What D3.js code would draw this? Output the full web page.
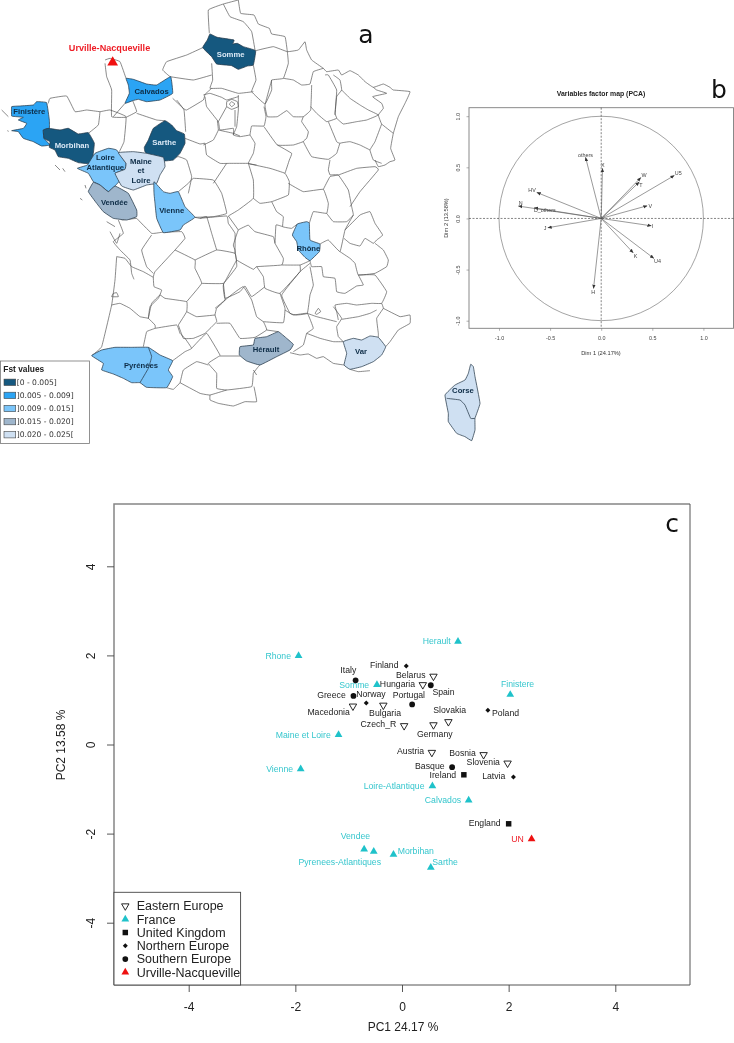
<!DOCTYPE html>
<html><head><meta charset="utf-8"><title>Fst map and PCA</title>
<script src="https://cdn.jsdelivr.net/npm/d3@7"></script>
<style>html,body{margin:0;padding:0;background:#fff}svg{display:block;filter:blur(0.3px)}text{font-family:"Liberation Sans",Arial,sans-serif}</style>
</head><body><svg id="chart" width="734" height="1043"></svg>
<script>
// ---------- DATA ----------
const fstBins = ["[0 - 0.005]","]0.005 - 0.009]","]0.009 - 0.015]","]0.015 - 0.020]","]0.020 - 0.025["];
const fstColors = ["#15587f","#2ba4f4","#7ac5fa","#9fb6cc","#cfe0f2"];
// department outlines in map units (one unit = a third of a screen pixel)
const coloredDepartments = [
 {name:"Somme",bin:0,ring:[[630,102],[652,112],[702,120],[698,132],[712,130],[730,140],[767,152],[760,195],[742,198],[715,208],[695,197],[650,192],[635,170],[608,143],[622,120]]},
 {name:"Calvados",bin:1,ring:[[378,235],[400,238],[440,252],[470,255],[512,230],[518,280],[480,300],[440,305],[415,298],[398,302],[375,310],[388,280],[385,255]]},
 {name:"Finistère",bin:1,ring:[[35,320],[60,318],[100,315],[110,305],[140,308],[148,360],[148,385],[130,390],[132,415],[150,435],[125,438],[100,425],[70,415],[55,395],[35,392],[70,385],[80,370],[55,360],[70,352],[50,350],[35,348]]},
 {name:"Morbihan",bin:0,ring:[[130,390],[145,385],[180,390],[205,385],[235,402],[265,398],[283,430],[275,490],[235,488],[205,475],[175,470],[165,450],[148,442],[150,425],[132,415]]},
 {name:"Sarthe",bin:0,ring:[[495,362],[515,375],[530,392],[553,402],[555,430],[540,460],[520,480],[490,483],[455,475],[435,455],[433,442],[445,420],[460,385]]},
 {name:"Loire Atlantique",bin:2,ring:[[232,505],[262,495],[285,460],[325,445],[350,450],[378,490],[375,508],[345,520],[365,535],[345,558],[325,575],[300,555],[280,545],[265,520]]},
 {name:"Maine et Loire",bin:4,ring:[[355,458],[400,455],[440,460],[490,472],[495,500],[480,525],[470,550],[440,555],[400,570],[365,558],[345,520],[375,508],[378,490]]},
 {name:"Vendée",bin:3,ring:[[265,575],[280,547],[300,555],[325,575],[345,558],[385,580],[410,630],[410,650],[380,660],[340,655],[310,635],[290,610]]},
 {name:"Vienne",bin:2,ring:[[462,545],[490,575],[510,580],[535,575],[555,620],[585,652],[550,675],[540,690],[490,698],[470,655],[465,610],[462,580]]},
 {name:"Rhône",bin:2,ring:[[892,672],[920,665],[928,670],[930,720],[960,732],[958,755],[930,782],[915,772],[895,750],[890,725],[877,705]]},
 {name:"Pyrénées",bin:2,ring:[[275,1067],[305,1050],[345,1042],[395,1042],[445,1042],[480,1065],[518,1082],[505,1110],[518,1130],[500,1163],[440,1162],[420,1148],[395,1148],[370,1135],[340,1122],[305,1110],[310,1090]]},
 {name:"Hérault",bin:3,ring:[[720,1040],[760,1035],[765,1015],[800,1010],[835,995],[860,1015],[880,1033],[870,1050],[830,1070],[780,1095],[740,1083],[718,1065]]},
 {name:"Var",bin:4,ring:[[1030,1025],[1060,1015],[1085,1020],[1110,1008],[1135,1012],[1157,1040],[1145,1065],[1120,1085],[1085,1100],[1050,1108],[1032,1095],[1040,1060]]},
 {name:"Corse",bin:4,ring:[[1412,1093],[1420,1100],[1425,1130],[1440,1210],[1425,1255],[1425,1290],[1415,1322],[1395,1310],[1370,1300],[1345,1265],[1345,1240],[1335,1185],[1365,1155],[1395,1140],[1405,1120]]}
];
const coloredInnerLines = [
 [[445,1042],[455,1070],[445,1105],[420,1148]],
 [[1340,1195],[1380,1200],[1395,1215],[1412,1255],[1425,1255]]
];
const departmentBorders = [
 [[628,100],[625,30],[670,12],[715,0]],
 [[715,0],[722,40],[762,45],[775,72],[808,85],[815,102],[855,110],[862,155]],
 [[670,12],[690,50],[730,65],[755,95],[765,150]],
 [[608,143],[560,165],[500,185],[488,210],[510,230]],
 [[767,152],[820,140],[862,155],[895,150],[915,125],[920,150],[935,180],[970,205],[980,215],[1015,210],[1025,225],[1050,212],[1075,225],[1095,245],[1120,262],[1150,252],[1170,262],[1180,270],[1230,275],[1215,310],[1195,350],[1180,400],[1172,445],[1185,480],[1170,485],[1155,495],[1135,500],[1125,480]],
 [[635,190],[638,240],[630,265],[665,265],[715,280],[760,275]],
 [[760,195],[768,240],[755,275],[795,312],[815,270],[815,240],[850,235],[865,190],[862,155]],
 [[850,235],[880,240],[905,255],[930,252],[940,215],[970,205]],
 [[815,240],[795,315],[802,350],[832,350],[860,332],[880,350],[910,350],[932,330],[935,255]],
 [[975,225],[985,225],[1010,270],[1005,340],[1010,355],[980,365],[950,340],[932,320]],
 [[1000,225],[1020,240],[1025,270],[1010,290],[1005,345]],
 [[1025,270],[1050,295],[1080,315],[1105,330],[1135,345],[1100,360],[1070,365],[1030,372],[1010,355]],
 [[1120,262],[1130,270],[1160,280],[1118,290],[1145,310],[1150,325],[1135,345],[1145,372],[1180,400]],
 [[1145,372],[1125,425],[1110,450],[1120,480],[1145,490]],
 [[910,350],[905,365],[925,395],[920,415],[910,425],[935,470],[985,478],[1010,460],[1020,430],[1050,425],[1080,435],[1110,450]],
 [[985,365],[1010,425],[1020,430]],
 [[792,380],[832,435],[880,435],[910,425]],
 [[715,285],[715,330],[710,380],[700,405],[720,410],[750,405]],
 [[792,320],[798,350],[792,378],[755,378],[750,405]],
 [[750,405],[765,430],[760,460],[745,490],[770,495]],
 [[832,435],[875,460],[868,480],[855,520]],
 [[610,285],[630,280],[665,292],[680,300],[715,290]],
 [[615,290],[620,320],[655,365],[660,390],[700,385],[700,405]],
 [[680,320],[655,365]],
 [[705,330],[705,380]],
 [[680,305],[695,298],[712,305],[715,320],[695,328],[680,320],[680,305]],
 [[695,305],[705,312],[695,320],[688,312],[695,305]],
 [[510,230],[580,240],[635,225]],
 [[518,295],[550,325],[560,330],[610,300],[615,283],[635,265]],
 [[398,302],[410,335],[378,352]],
 [[410,340],[470,360],[495,362]],
 [[530,300],[552,330],[557,395]],
 [[555,415],[600,432],[615,430],[620,465],[660,490],[690,490],[745,490]],
 [[610,435],[640,420],[655,390],[652,362]],
 [[655,390],[700,400],[720,408]],
 [[640,550],[680,490]],
 [[745,490],[760,540],[760,595],[715,630],[685,648]],
 [[535,575],[565,550],[580,535],[640,540],[665,580],[680,640],[640,650],[585,652]],
 [[490,480],[535,470],[560,480],[575,530],[565,580]],
 [[315,190],[320,230],[335,270],[335,350],[378,352]],
 [[315,180],[330,175],[360,185],[378,235]],
 [[375,310],[340,350]],
 [[145,310],[150,295],[200,288],[225,335],[260,330],[300,335],[330,330],[378,350],[372,425],[358,455]],
 [[300,335],[295,375],[265,400]],
 [[410,655],[455,700],[485,697],[545,695],[555,715],[525,750],[465,815],[460,832],[462,860],[485,870],[475,895],[450,920],[445,955]],
 [[365,660],[410,655]],
 [[355,660],[370,700],[340,725],[360,750],[390,780],[395,820],[402,838]],
 [[320,665],[345,680]],
 [[330,695],[350,730],[360,700]],
 [[455,705],[425,750],[440,800],[460,820]],
 [[350,770],[375,775],[395,800],[430,815],[460,832]],
 [[350,770],[345,840],[335,915],[305,1040],[275,1067]],
 [[340,880],[350,878],[355,890],[335,890],[340,880]],
 [[335,915],[360,910],[390,925],[420,950],[445,955],[465,975],[465,985],[440,995],[430,1040]],
 [[465,985],[530,975],[540,1000],[555,1015],[575,1045],[555,1055],[518,1082]],
 [[445,955],[455,910],[480,885],[495,895],[560,905],[560,935],[535,975]],
 [[525,750],[585,780],[585,805],[605,850],[560,905]],
 [[585,780],[650,750],[705,760],[710,800],[670,850],[605,850]],
 [[585,652],[600,655],[620,650],[635,700],[650,750]],
 [[600,655],[680,648],[685,670],[705,700],[705,760]],
 [[670,850],[675,900],[650,925],[645,945],[650,965],[615,1000],[580,1015],[550,1015],[535,975]],
 [[560,935],[590,950],[645,945]],
 [[645,925],[700,880],[730,860],[755,900],[770,950],[790,965],[795,975],[800,990],[765,1012],[720,1015],[690,970],[650,970]],
 [[575,1045],[620,1000],[660,1065],[655,1070],[625,1090],[650,1120],[650,1165],[680,1170],[755,1160],[760,1120],[775,1100],[780,1095]],
 [[660,1068],[720,1068]],
 [[500,1163],[520,1168],[540,1148],[550,1110],[590,1085],[625,1095]],
 [[540,1148],[600,1180],[630,1185],[680,1170]],
 [[630,1185],[630,1200],[655,1210],[700,1218],[735,1205],[770,1205],[762,1160]],
 [[760,1110],[770,1125]],
 [[745,490],[750,492],[810,505],[855,520],[868,545],[865,585],[815,605],[780,610],[760,595]],
 [[815,605],[830,635],[850,650],[848,680],[875,685],[892,672]],
 [[865,550],[910,575],[970,568],[985,610],[980,640],[940,635],[928,670]],
 [[970,568],[990,530],[1015,525],[1070,505],[1125,500],[1135,510],[1080,575],[1050,620]],
 [[990,525],[985,510],[990,480]],
 [[990,525],[1015,525],[1045,570],[1055,620],[1060,645],[1040,665],[1000,665],[980,640]],
 [[960,732],[985,720],[1020,755],[1035,690],[1060,645]],
 [[1035,690],[1080,645],[1110,635],[1125,670],[1148,705],[1130,720],[1120,730],[1095,715],[1080,738],[1050,730],[1032,715]],
 [[1125,730],[1150,750],[1165,780],[1160,800],[1125,820],[1075,825],[1065,790],[1050,775],[1020,755]],
 [[1075,825],[1090,855],[1070,858],[1035,880],[1010,875],[1005,835],[970,830],[965,800],[935,800],[930,782]],
 [[1075,825],[1125,825],[1160,875],[1145,910],[1115,910],[1070,915],[1040,910],[1005,915],[1010,935],[1015,960]],
 [[1150,925],[1200,950],[1230,945],[1230,970],[1195,990],[1170,1025],[1157,1040]],
 [[1145,910],[1150,925],[1130,955],[1135,1000],[1135,1012]],
 [[1000,920],[1025,955],[1010,980],[1015,1010],[1030,1025]],
 [[1025,958],[1075,950],[1110,940],[1130,930]],
 [[745,675],[765,695],[820,710],[825,730],[850,775],[845,795],[770,800],[760,808],[710,780],[705,750],[700,735],[715,690],[745,675]],
 [[685,648],[715,690]],
 [[848,680],[828,675],[825,730]],
 [[845,795],[900,795],[930,782]],
 [[770,800],[790,830],[795,865],[840,880],[900,815],[900,795]],
 [[710,780],[670,855],[675,895],[720,875],[735,858],[755,890],[795,860]],
 [[840,880],[855,925],[850,968],[790,965]],
 [[930,790],[900,815],[845,885],[870,940],[890,945],[922,940],[930,885],[940,855],[930,800]],
 [[922,940],[950,950],[1010,965]],
 [[945,940],[955,925],[962,935],[950,943],[945,940]],
 [[855,930],[880,945],[922,940],[940,985],[920,1000],[910,1035],[880,1055]],
 [[920,1000],[960,1015],[1000,1025],[1030,1025]],
 [[800,990],[835,995]],
 [[870,1058],[900,1065],[925,1062],[950,1075],[970,1070],[1000,1090],[1032,1095]],
 [[1050,1108],[1075,1115],[1110,1112]],
 [[5,330],[25,350]],[[22,392],[26,394]],[[165,495],[180,510]],[[188,505],[195,515]],[[255,555],[258,565]],[[240,595],[247,600]]
];
const mapSite = ["Urville-Nacqueville",[338,187]];

// PCA loadings: [variable, Dim1, Dim2]
const pcaVariables = [
 ["others",-0.153,0.597],["X",0.013,0.49],["W",0.388,0.40],["T",0.372,0.356],["U5",0.715,0.42],
 ["V",0.45,0.124],["I",0.49,-0.072],["U4",0.515,-0.39],["K",0.313,-0.336],["H",-0.075,-0.685],
 ["J",-0.522,-0.091],["D_others",-0.656,0.104],["N",-0.81,0.121],["HV",-0.63,0.254]
];
const pcaTicks = [-1,-0.5,0,0.5,1];

// Population scores: [name, PC1, PC2]
const easternEurope = [["Belarus",0.59,1.53],["Hungaria",0.39,1.34],["Macedonia",-0.92,0.86],["Bulgaria",-0.35,0.88],["Czech_R",0.04,0.42],["Germany",0.59,0.44],["Slovakia",0.87,0.51],["Austria",0.56,-0.18],["Bosnia",1.53,-0.23],["Slovenia",1.98,-0.42]];
const france = [["Herault",1.05,2.31],["Rhone",-1.94,1.99],["Somme",-0.47,1.34],["Finistere",2.03,1.12],["Maine et Loire",-1.19,0.22],["Vienne",-1.90,-0.55],["Loire-Atlantique",0.57,-0.93],["Calvados",1.25,-1.25],["Vendee",-0.71,-2.35],["Pyrenees-Atlantiques",-0.53,-2.40],["Morbihan",-0.16,-2.47],["Sarthe",0.54,-2.76]];
const unitedKingdom = [["Ireland",1.16,-0.68],["England",2.00,-1.78]];
const northernEurope = [["Finland",0.08,1.76],["Norway",-0.67,0.93],["Poland",1.61,0.77],["Latvia",2.09,-0.73]];
const southernEurope = [["Italy",-0.87,1.44],["Spain",0.54,1.33],["Greece",-0.91,1.09],["Portugal",0.19,0.90],["Basque",0.94,-0.51]];
const urville = [["UN",2.43,-2.12]];
const pcTicks = [-4,-2,0,2,4];

// ---------- LAYOUT ----------
const svg = d3.select("#chart");
const DARK = "#0d2c46", LIGHT = "#dbe9f6";
const mapLabels = [
 ["Somme",692,162,LIGHT],["Calvados",455,274,DARK],["Finistère",88,335,DARK],["Morbihan",216,435,LIGHT],["Sarthe",493,427,LIGHT],
 ["Loire",316,472,DARK],["Atlantique",316,502,DARK],["Maine",423,483,DARK],["et",423,512,DARK],["Loire",423,540,DARK],
 ["Vendée",343,606,DARK],["Vienne",515,630,DARK],["Rhône",925,745,DARK],["Pyrénées",423,1095,DARK],["Hérault",798,1048,DARK],["Var",1083,1053,DARK],["Corse",1389,1171,DARK]
];
const labelOffsets = {Herault:[-21.3,-.3],Rhone:[-20.3,0],Somme:[-22.7,0],Finistere:[7.3,-11],"Maine et Loire":[-35.3,0],Vienne:[-21,-.3],"Loire-Atlantique":[-38.3,0],Calvados:[-25.7,0],Vendee:[-8.7,-13],"Pyrenees-Atlantiques":[-34,10.3],Morbihan:[22.3,-3.7],Sarthe:[14.3,-5.3],UN:[-14,0],
 Belarus:[-22.7,-1.3],Hungaria:[-25.3,-1.3],Macedonia:[-24.3,5.7],Bulgaria:[1.7,8],Czech_R:[-25.7,-1.7],Germany:[1.3,8.7],Slovakia:[1.3,-11.7],Austria:[-21.3,-1.7],Bosnia:[-21,-1.3],Slovenia:[-24.3,-1.7],
 Finland:[-22,-.7],Norway:[4.7,-9],Poland:[17.7,2.3],Latvia:[-19.7,-1],Italy:[-7.3,-10.3],Spain:[12.7,7],Greece:[-22,-1],Portugal:[-3.3,-9.3],Basque:[-22.3,-1.2],Ireland:[-21,.3],England:[-24,-.7]};
const hyphen = f => v => f(v).replace("\u2212","-");

function panelLetter(t,x,y){svg.append("text").text(t).attr("x",x).attr("y",y).attr("text-anchor","middle")
 .style("font-family","'DejaVu Sans'").style("font-size","25px").attr("fill","#111");}

// ---------- PANEL A: MAP ----------
const project = d3.geoIdentity().scale(1/3);
const toPx = line => line.map(p=>project(p));
const openCurve = d3.line().curve(d3.curveCardinal.tension(0.75));
const closedCurve = d3.line().curve(d3.curveCardinalClosed.tension(0.75));
const mapG = svg.append("g");
mapG.selectAll("path.border").data(departmentBorders).join("path").attr("class","border")
 .attr("d",d=>openCurve(toPx(d))).attr("fill","none").attr("stroke","#4a4a4a").attr("stroke-width",.65).attr("stroke-linejoin","round");
mapG.selectAll("path.dept").data(coloredDepartments).join("path").attr("class","dept")
 .attr("d",d=>closedCurve(toPx(d.ring)))
 .attr("fill",d=>fstColors[d.bin]).attr("stroke","#27394a").attr("stroke-width",.75).attr("stroke-linejoin","round");
mapG.selectAll("path.inner").data(coloredInnerLines).join("path").attr("class","inner")
 .attr("d",d=>openCurve(toPx(d))).attr("fill","none").attr("stroke","#27394a").attr("stroke-width",.75);
mapG.selectAll("text.ml").data(mapLabels).join("text").attr("class","ml").text(d=>d[0])
 .attr("transform",d=>`translate(${project([d[1],d[2]])})`).attr("text-anchor","middle").attr("dy","0.35em")
 .attr("font-weight","bold").attr("font-size",7.7).attr("fill",d=>d[3]);
const sitePx = project(mapSite[1]);
mapG.append("path").attr("d",d3.symbol(d3.symbolTriangle,50)()).attr("transform",`translate(${sitePx})`).attr("fill","#f01010");
mapG.append("text").text(mapSite[0]).attr("x",109.5).attr("y",48).attr("dy","0.35em").attr("text-anchor","middle")
 .attr("font-weight","bold").attr("font-size",9.1).attr("fill","#ee1c25");
panelLetter("a",366,43);

// legend a
const lgA = svg.append("g");
lgA.append("rect").attr("x",.5).attr("y",361).attr("width",89).attr("height",82.5).attr("fill","#fff").attr("stroke","#777").attr("stroke-width",.8);
lgA.append("text").text("Fst values").attr("x",3.3).attr("y",369.5).attr("dy","0.35em").attr("font-weight","bold").attr("font-size",8.4).attr("fill","#222");
const lgY = d3.scalePoint().domain(fstBins).range([382.3,434.7]);
lgA.selectAll("rect.sw").data(fstBins).join("rect").attr("class","sw").attr("x",4).attr("y",d=>lgY(d)-3.2).attr("width",11.7).attr("height",6.4)
 .attr("fill",(d,i)=>fstColors[i]).attr("stroke","#444").attr("stroke-width",.6);
lgA.selectAll("text.lb").data(fstBins).join("text").attr("class","lb").text(d=>d).attr("x",16.7).attr("y",d=>lgY(d)).attr("dy","0.35em")
 .style("font-family","'DejaVu Sans'").attr("font-size",7.6).attr("fill","#333");

// ---------- PANEL B: PCA ----------
const bx = d3.scaleLinear().domain([-1,1]).range([499,703.4]);
const by = d3.scaleLinear().domain([-1,1]).range([320.7,116.2]);
const bL=469,bR=733.5,bT=107.7,bB=328.3, GREY="#7d7d7d";
const pg = svg.append("g");
pg.append("rect").attr("x",bL).attr("y",bT).attr("width",bR-bL).attr("height",bB-bT).attr("fill","none").attr("stroke",GREY).attr("stroke-width",.9);
pg.append("circle").attr("cx",bx(0)).attr("cy",by(0)).attr("r",bx(1)-bx(0)).attr("fill","none").attr("stroke","#666").attr("stroke-width",.6);
pg.append("line").attr("x1",bL).attr("x2",bR).attr("y1",by(0)).attr("y2",by(0)).attr("stroke","#333").attr("stroke-width",.6).attr("stroke-dasharray","2 1.5");
pg.append("line").attr("y1",bT).attr("y2",bB).attr("x1",bx(0)).attr("x2",bx(0)).attr("stroke","#333").attr("stroke-width",.6).attr("stroke-dasharray","2 1.5");
svg.append("defs").append("marker").attr("id","ah").attr("viewBox","0 0 6 6").attr("refX",5.5).attr("refY",3).attr("markerWidth",4.2).attr("markerHeight",4.2).attr("markerUnits","userSpaceOnUse").attr("orient","auto")
 .append("path").attr("d","M0,0.6L6,3L0,5.4z").attr("fill","#333");
pg.selectAll("line.arrow").data(pcaVariables).join("line").attr("class","arrow").attr("x1",bx(0)).attr("y1",by(0)).attr("x2",d=>bx(d[1])).attr("y2",d=>by(d[2]))
 .attr("stroke","#555").attr("stroke-width",.6).attr("marker-end","url(#ah)");
const varOffsets={others:[0,-2.7],X:[.3,-3],W:[3.3,-2.7],T:[1.7,3],U5:[4,-2.7],V:[3,.3],I:[1.3,.7],U4:[3.7,2.3],K:[2.3,3],H:[-.3,3.3],J:[-2.7,.3],D_others:[10.7,2.3],N:[2.3,-3],HV:[-4.7,-2.3]};
pg.selectAll("text.v").data(pcaVariables).join("text").attr("class","v").text(d=>d[0])
 .attr("x",d=>bx(d[1])+varOffsets[d[0]][0]).attr("y",d=>by(d[2])+varOffsets[d[0]][1]).attr("dy","0.35em").attr("text-anchor","middle").attr("font-size",5.4).attr("fill","#444");
const bFmt = hyphen(d3.format(".1f"));
const bAxX = pg.append("g").attr("transform",`translate(0,${bB})`).call(d3.axisBottom(bx).tickValues(pcaTicks).tickFormat(bFmt).tickSize(2.5).tickPadding(5));
const bAxY = pg.append("g").attr("transform",`translate(${bL},0)`).call(d3.axisLeft(by).tickValues(pcaTicks).tickFormat(bFmt).tickSize(2.5));
[bAxX,bAxY].forEach(a=>{a.select(".domain").remove();a.selectAll("line").attr("stroke",GREY).attr("stroke-width",.6);a.selectAll("text").attr("font-size",5.4).attr("fill","#444").style("font-family","'Liberation Sans'");});
bAxY.selectAll("text").attr("x",0).attr("dy",0).attr("text-anchor","middle").attr("transform","translate(-10.3,0) rotate(-90)").attr("dominant-baseline","middle");
pg.append("text").text("Variables factor map (PCA)").attr("x",601).attr("y",94).attr("dy","0.35em").attr("text-anchor","middle").attr("font-weight","bold").attr("font-size",6.9).attr("fill","#222");
pg.append("text").text("Dim 1 (24.17%)").attr("x",601).attr("y",352.7).attr("dy","0.35em").attr("text-anchor","middle").attr("font-size",5.7).attr("fill","#333");
pg.append("text").text("Dim 2 (13.58%)").attr("transform","translate(446,218) rotate(-90)").attr("dy","0.35em").attr("text-anchor","middle").attr("font-size",5.7).attr("fill","#333");
panelLetter("b",719,98);

// ---------- PANEL C: SCORES ----------
const cx = d3.scaleLinear().domain([-4,4]).range([188.7,615.3]);
const cy = d3.scaleLinear().domain([-4,4]).range([922.7,566.3]);
const cL=114,cR=690,cT=504,cB=985;
const TEAL="#1fc2ca", RED="#ee1c25";
const groups = [
 {name:"Eastern Europe",data:easternEurope,type:d3.symbolTriangle,size:24,rotate:180,fill:"none",stroke:"#111",text:"#222"},
 {name:"France",data:france,type:d3.symbolTriangle,size:26,rotate:0,fill:TEAL,stroke:"none",text:"#35c6cd"},
 {name:"United Kingdom",data:unitedKingdom,type:d3.symbolSquare,size:30,rotate:0,fill:"#111",stroke:"none",text:"#222"},
 {name:"Northern Europe",data:northernEurope,type:d3.symbolSquare,size:12.5,rotate:45,fill:"#111",stroke:"none",text:"#222"},
 {name:"Southern Europe",data:southernEurope,type:d3.symbolCircle,size:26,rotate:0,fill:"#111",stroke:"none",text:"#222"},
 {name:"Urville-Nacqueville",data:urville,type:d3.symbolTriangle,size:26,rotate:0,fill:"#ee1010",stroke:"none",text:RED}
];
const cg = svg.append("g");
cg.append("path").attr("d",`M${cL},${cB}V${cT}H${cR}`).attr("fill","none").attr("stroke","#858585").attr("stroke-width",1.5);
cg.append("path").attr("d",`M${cR},${cT}V${cB}H${cL}`).attr("fill","none").attr("stroke","#555").attr("stroke-width",1);
const cFmt = hyphen(d3.format("d"));
const cAxX = cg.append("g").attr("transform",`translate(0,${cB})`).call(d3.axisBottom(cx).tickValues(pcTicks).tickFormat(cFmt).tickSize(7).tickPadding(10));
const cAxY = cg.append("g").attr("transform",`translate(${cL},0)`).call(d3.axisLeft(cy).tickValues(pcTicks).tickFormat(cFmt).tickSize(7));
[cAxX,cAxY].forEach(a=>{a.select(".domain").remove();a.selectAll("line").attr("stroke","#444").attr("stroke-width",.9);a.selectAll("text").attr("font-size",12).attr("fill","#222").style("font-family","'Liberation Sans'");});
cAxY.selectAll("text").attr("x",0).attr("dy",0).attr("text-anchor","middle").attr("dominant-baseline","middle").attr("transform","translate(-22.3,0) rotate(-90)");
cg.append("text").text("PC1 24.17 %").attr("x",403).attr("y",1027).attr("dy","0.35em").attr("text-anchor","middle").attr("font-size",12).attr("fill","#222");
cg.append("text").text("PC2 13.58 %").attr("transform","translate(61,745) rotate(-90)").attr("dy","0.35em").attr("text-anchor","middle").attr("font-size",12).attr("fill","#222");
groups.forEach(g=>{
 const sym=d3.symbol(g.type,g.size)();
 const gg=cg.append("g");
 gg.selectAll("path").data(g.data).join("path").attr("d",sym)
  .attr("transform",d=>`translate(${cx(d[1])},${cy(d[2])}) rotate(${g.rotate})`)
  .attr("fill",g.fill).attr("stroke",g.stroke).attr("stroke-width",.9);
 gg.selectAll("text").data(g.data).join("text").text(d=>d[0])
  .attr("x",d=>cx(d[1])+labelOffsets[d[0]][0]).attr("y",d=>cy(d[2])+labelOffsets[d[0]][1]).attr("dy","0.35em")
  .attr("text-anchor","middle").attr("font-size",8.7).attr("fill",g.text);
});
// legend c
const lgC = svg.append("g");
lgC.append("rect").attr("x",114).attr("y",892.3).attr("width",126.6).attr("height",92.7).attr("fill","#fff").attr("stroke","#444").attr("stroke-width",.9);
const lcY = d3.scalePoint().domain(groups.map(g=>g.name)).range([906,972.3]);
lgC.selectAll("path").data(groups).join("path").attr("d",g=>d3.symbol(g.type,g.size)())
 .attr("transform",g=>`translate(125.3,${lcY(g.name)}) rotate(${g.rotate})`).attr("fill",g=>g.fill).attr("stroke",g=>g.stroke).attr("stroke-width",.9);
lgC.selectAll("text").data(groups).join("text").text(g=>g.name).attr("x",136.7).attr("y",g=>lcY(g.name)).attr("dy","0.35em").attr("font-size",12.5).attr("fill","#222");
panelLetter("c",672,532);
</script></body></html>
